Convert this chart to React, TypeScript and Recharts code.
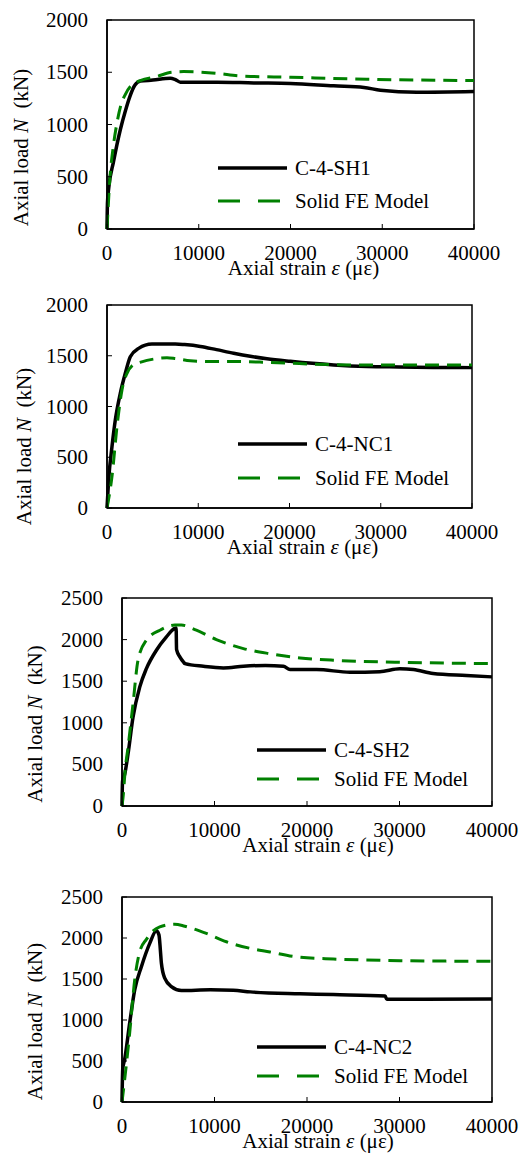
import React from "react";
import {
  Legend,
  Line,
  LineChart,
  ReferenceArea,
  XAxis,
  YAxis,
} from "recharts";

// strain (με), load (kN)
const strainTicks = [0, 10000, 20000, 30000, 40000];
const loadTicks2000 = [0, 500, 1000, 1500, 2000];
const loadTicks2500 = [0, 500, 1000, 1500, 2000, 2500];

const modelName = "Solid FE Model";
const specimenNames = ["C-4-SH1", "C-4-NC1", "C-4-SH2", "C-4-NC2"];

const sh1Test = [
  [0, 0], [50, 250], [200, 400], [700, 640], [1450, 950], [2000, 1130], [2500, 1270],
  [3050, 1378], [3630, 1415], [5000, 1425], [6900, 1443], [7400, 1432],
  [8000, 1405], [12000, 1405], [16000, 1398], [20000, 1393], [24700, 1370],
  [28000, 1355], [29800, 1328], [33750, 1308], [40000, 1315],
];
const sh1Model = [
  [0, 0], [330, 500], [700, 800], [1055, 1000], [1500, 1180], [1960, 1282],
  [2690, 1378], [3630, 1420], [5445, 1460], [7050, 1500], [8348, 1506], [10000, 1502],
  [11980, 1490], [14500, 1465], [20000, 1452], [28300, 1433], [40000, 1420],
];

const nc1Test = [
  [0, 0], [180, 278], [548, 606], [910, 867], [1458, 1130], [2005, 1327], [2553, 1491],
  [3470, 1573], [4930, 1616], [7480, 1616], [8500, 1610], [10228, 1592], [12000, 1560],
  [13880, 1525], [15700, 1495], [17534, 1470], [20091, 1445], [22500, 1425],
  [24840, 1410], [28490, 1395], [32000, 1390], [36000, 1385], [40000, 1383],
];
const nc1Model = [
  [0, 0], [548, 311], [1096, 803], [1644, 1164], [2192, 1327], [2740, 1400],
  [3800, 1440], [5300, 1470], [6575, 1480], [7500, 1472], [9132, 1450], [11000, 1443],
  [13880, 1443], [17000, 1437], [20091, 1426], [24840, 1412], [30000, 1408], [40000, 1410],
];

const sh2Test = [
  [0, 0], [60, 300], [290, 380], [650, 624], [1190, 1066], [1914, 1429], [2636, 1651],
  [3718, 1872], [4800, 2033], [5700, 2134], [5850, 2140], [5900, 1880], [6270, 1790],
  [6655, 1730], [6810, 1711], [8800, 1679], [10960, 1660], [13125, 1680], [15500, 1690],
  [17446, 1680], [18165, 1640], [21043, 1640], [24640, 1608], [27878, 1615],
  [30036, 1650], [31500, 1640], [33633, 1592], [37230, 1568], [40000, 1552],
];
const sh2Model = [
  [0, 0], [110, 100], [360, 450], [650, 704], [1190, 1228], [1730, 1751], [2640, 1993],
  [4100, 2113], [5700, 2174], [6420, 2174], [8040, 2113], [10200, 2001], [13125, 1892],
  [16000, 1830], [19245, 1780], [22842, 1752], [26000, 1738], [30036, 1728],
  [35000, 1718], [40000, 1712],
];

const nc2Test = [
  [0, 0], [80, 400], [290, 520], [830, 963], [1373, 1368], [2096, 1650], [3000, 1934],
  [3720, 2087], [4000, 2035], [4150, 1850], [4260, 1692], [4620, 1510], [5340, 1408],
  [6420, 1360], [9540, 1368], [12022, 1362], [13870, 1343], [19242, 1320],
  [22852, 1310], [28448, 1292], [28628, 1252], [40000, 1256],
];
const nc2Model = [
  [0, 0], [290, 275], [830, 842], [1373, 1489], [1914, 1833], [2636, 1983],
  [3300, 2080], [4080, 2136], [5700, 2169], [6780, 2144], [9125, 2056], [11290, 1954],
  [13870, 1874], [16000, 1830], [18520, 1776], [22852, 1744], [26000, 1732],
  [30072, 1724], [35000, 1718], [40000, 1715],
];

const FONT = "Liberation Serif";
const GREEN = "#008000";

const toPoints = (rows: number[][]) => rows.map(([strain, load]) => ({ strain, load }));

type PanelProps = {
  top: number;
  height: number;
  plot: { top: number; bottom: number; left: number; right: number };
  yMax: number;
  yTicks: number[];
  name: string;
  test: number[][];
  model: number[][];
  legend: { left: number; top: number; row: number };
  yLabelX: number;
  yLabelShift: number;
  xLabelShift: number;
};

// ticks drawn by hand so the serif face is used
const XTick = ({ x, y, payload }: any) => (
  <text
    x={x}
    y={y + 14}
    textAnchor="middle"
    style={{ fontFamily: FONT, fontSize: 21, fill: "#000" }}
  >
    {payload.value}
  </text>
);

const YTick = ({ x, y, payload }: any) => (
  <text
    x={x}
    y={y + 7}
    textAnchor="end"
    style={{ fontFamily: FONT, fontSize: 21, fill: "#000" }}
  >
    {payload.value}
  </text>
);

function renderLegend(row: number) {
  return (props: any) => {
    const items = props.payload ?? [];
    return (
      <div>
        {items.map((item: any) => (
          <div
            key={item.value}
            style={{ display: "flex", alignItems: "center", height: row, whiteSpace: "nowrap" }}
          >
            <svg width={69} height={8} style={{ marginRight: 8 }}>
              <line
                x1={0}
                x2={69}
                y1={4}
                y2={4}
                stroke={item.color}
                strokeWidth={item.payload?.strokeDasharray ? 3 : 3.5}
                strokeDasharray={item.payload?.strokeDasharray ? "22 18" : undefined}
              />
            </svg>
            <span style={{ fontFamily: FONT, fontSize: 21, color: "#000", lineHeight: "24px" }}>
              {item.value}
            </span>
          </div>
        ))}
      </div>
    );
  };
}

function Panel({
  top,
  height,
  plot,
  yMax,
  yTicks,
  name,
  test,
  model,
  legend,
  yLabelX,
  yLabelShift,
  xLabelShift,
}: PanelProps) {
  const plotMidX = (plot.left + plot.right) / 2;
  const plotMidY = (plot.top + plot.bottom) / 2;

  return (
    <div style={{ position: "absolute", left: 0, top }}>
      <LineChart
        width={520}
        height={height}
        margin={{ top: plot.top, right: 520 - plot.right, bottom: 0, left: 0 }}
      >
        <XAxis
          dataKey="strain"
          type="number"
          domain={[0, 40000]}
          ticks={strainTicks}
          interval={0}
          height={height - plot.bottom}
          tickSize={-5}
          tickMargin={22}
          tick={<XTick />}
          axisLine={{ stroke: "#000", strokeWidth: 1.5 }}
          tickLine={{ stroke: "#000", strokeWidth: 1 }}
          label={{
            content: () => (
              <text
                x={plotMidX + xLabelShift}
                y={plot.bottom + 46}
                textAnchor="middle"
                style={{ fontFamily: FONT, fontSize: 21, fill: "#000" }}
              >
                Axial strain <tspan fontStyle="italic">ε</tspan> (με)
              </text>
            ),
          }}
        />
        <YAxis
          type="number"
          domain={[0, yMax]}
          ticks={yTicks}
          interval={0}
          width={plot.left}
          tickSize={-5}
          tickMargin={24}
          tick={<YTick />}
          axisLine={{ stroke: "#000", strokeWidth: 1.5 }}
          tickLine={{ stroke: "#000", strokeWidth: 1 }}
          label={{
            content: () => (
              <text
                x={yLabelX}
                y={plotMidY + yLabelShift}
                transform={`rotate(-90, ${yLabelX}, ${plotMidY + yLabelShift})`}
                textAnchor="middle"
                dominantBaseline="central"
                style={{ fontFamily: FONT, fontSize: 21, fill: "#000" }}
              >
                Axial load <tspan fontStyle="italic">N</tspan>{"\u00a0 (kN)"}
              </text>
            ),
          }}
        />
        <ReferenceArea
          x1={0}
          x2={40000}
          y1={0}
          y2={yMax}
          fill="none"
          stroke="#000"
          strokeWidth={1.5}
          ifOverflow="visible"
        />
        <Line
          data={toPoints(test)}
          dataKey="load"
          name={name}
          type="monotone"
          stroke="#000"
          strokeWidth={3.5}
          dot={false}
          isAnimationActive={false}
        />
        <Line
          data={toPoints(model)}
          dataKey="load"
          name={modelName}
          type="monotone"
          stroke={GREEN}
          strokeWidth={3}
          strokeDasharray="14 8"
          dot={false}
          isAnimationActive={false}
        />
        <Legend
          layout="vertical"
          align="center"
          verticalAlign="middle"
          wrapperStyle={{ left: legend.left, top: legend.top, width: "auto" }}
          content={renderLegend(legend.row)}
        />
      </LineChart>
    </div>
  );
}

export default function App() {
  return (
    <div
      style={{
        position: "absolute",
        left: 0,
        top: 0,
        width: 520,
        height: 1156,
        background: "#fff",
        overflow: "hidden",
      }}
    >
      <Panel
        top={0}
        height={290}
        plot={{ top: 20, bottom: 229, left: 107, right: 474 }}
        yMax={2000}
        yTicks={loadTicks2000}
        name={specimenNames[0]}
        test={sh1Test}
        model={sh1Model}
        legend={{ left: 218, top: 151, row: 33 }}
        yLabelX={21}
        yLabelShift={23}
        xLabelShift={13}
      />
      <Panel
        top={280}
        height={290}
        plot={{ top: 25, bottom: 228, left: 107, right: 472 }}
        yMax={2000}
        yTicks={loadTicks2000}
        name={specimenNames[1]}
        test={nc1Test}
        model={nc1Model}
        legend={{ left: 238, top: 147, row: 34 }}
        yLabelX={24}
        yLabelShift={40}
        xLabelShift={13}
      />
      <Panel
        top={570}
        height={290}
        plot={{ top: 28, bottom: 236, left: 122, right: 492 }}
        yMax={2500}
        yTicks={loadTicks2500}
        name={specimenNames[2]}
        test={sh2Test}
        model={sh2Model}
        legend={{ left: 257, top: 165, row: 29 }}
        yLabelX={35}
        yLabelShift={22}
        xLabelShift={11}
      />
      <Panel
        top={860}
        height={296}
        plot={{ top: 37, bottom: 242, left: 122, right: 492 }}
        yMax={2500}
        yTicks={loadTicks2500}
        name={specimenNames[3]}
        test={nc2Test}
        model={nc2Model}
        legend={{ left: 257, top: 172, row: 29 }}
        yLabelX={35}
        yLabelShift={22}
        xLabelShift={11}
      />
    </div>
  );
}
